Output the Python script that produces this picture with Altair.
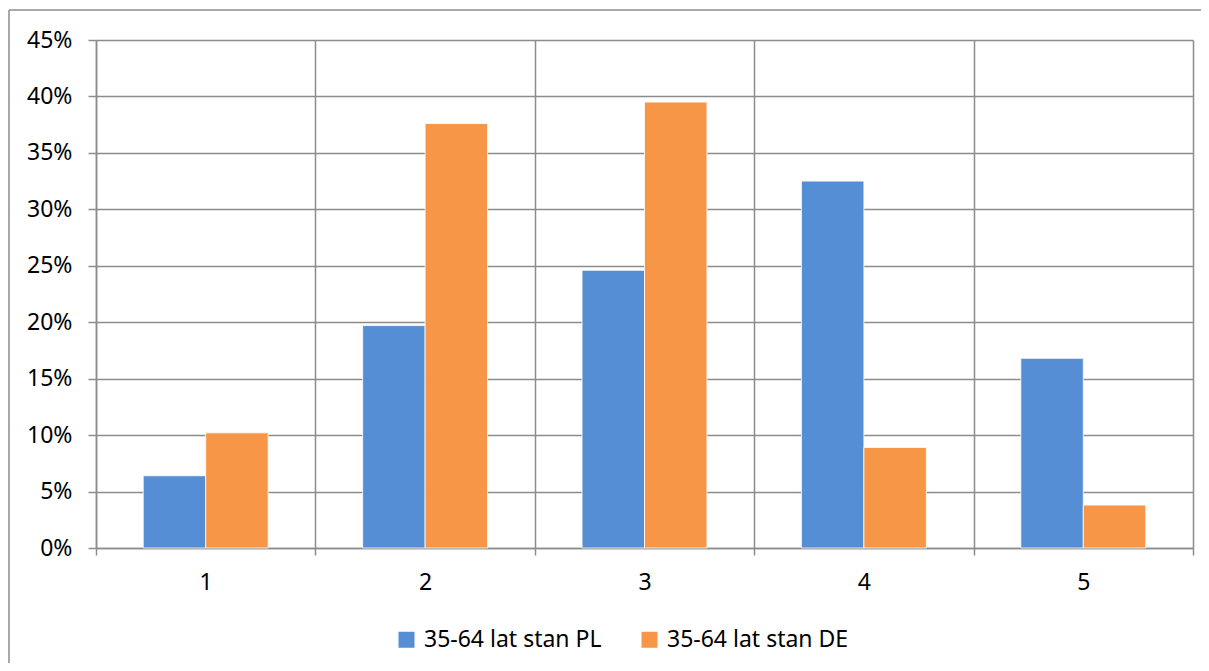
import altair as alt
import pandas as pd

categories = ["1", "2", "3", "4", "5"]
series_names = ["35-64 lat stan PL", "35-64 lat stan DE"]
pl_values = [0.064, 0.197, 0.246, 0.325, 0.168]
de_values = [0.102, 0.376, 0.395, 0.089, 0.038]
y_ticks = [0.0, 0.05, 0.10, 0.15, 0.20, 0.25, 0.30, 0.35, 0.40, 0.45]
colors = ["#558ED5", "#F79646"]

rows = []
for c, v in zip(categories, pl_values):
    rows.append({"cat": c, "series": series_names[0], "value": v})
for c, v in zip(categories, de_values):
    rows.append({"cat": c, "series": series_names[1], "value": v})
df = pd.DataFrame(rows)

FONT = "Noto Sans"
FS = 23
GRID = "#8c8c8c"

bars = alt.Chart(df).mark_bar(stroke="white", strokeWidth=0.8).encode(
    x=alt.X(
        "cat:N",
        sort=categories,
        title=None,
        scale=alt.Scale(paddingInner=0, paddingOuter=0),
        axis=alt.Axis(
            tickBand="extent",
            grid=True,
            gridColor=GRID,
            gridWidth=1.5,
            domainColor=GRID,
            domainWidth=1.5,
            tickColor=GRID,
            tickWidth=1.5,
            tickSize=7,
            labelAngle=0,
            labelPadding=16,
            labelFont=FONT,
            labelFontSize=FS,
            labelColor="#000000",
        ),
    ),
    xOffset=alt.XOffset(
        "series:N",
        sort=series_names,
        scale=alt.Scale(paddingInner=0, paddingOuter=0.756),
    ),
    y=alt.Y(
        "value:Q",
        title=None,
        scale=alt.Scale(domain=[0, 0.45], nice=False),
        axis=alt.Axis(
            values=y_ticks,
            format=".0%",
            grid=True,
            gridColor=GRID,
            gridWidth=1.5,
            domainColor=GRID,
            domainWidth=1.5,
            tickColor=GRID,
            tickWidth=1.5,
            tickSize=8,
            labelPadding=16,
            labelFont=FONT,
            labelFontSize=FS,
            labelColor="#000000",
        ),
    ),
    color=alt.Color(
        "series:N",
        sort=series_names,
        scale=alt.Scale(domain=series_names, range=colors),
        legend=alt.Legend(
            title=None,
            orient="none",
            direction="horizontal",
            legendX=299,
            legendY=588,
            symbolType="square",
            symbolSize=256,
            symbolStrokeWidth=0,
            symbolOpacity=1,
            labelFont=FONT,
            labelFontSize=FS,
            labelColor="#000000",
            labelOffset=6,
            columnPadding=36,
            padding=0,
            labelLimit=400,
        ),
    ),
)

frame = pd.DataFrame({"a": [0]})
border_top = alt.Chart(frame).mark_rule(stroke="#8c8c8c", strokeWidth=1.5).encode(
    x=alt.value(-87), x2=alt.value(1300), y=alt.value(-30)
)
border_left = alt.Chart(frame).mark_rule(stroke="#8c8c8c", strokeWidth=1.5).encode(
    x=alt.value(-87), y=alt.value(-30), y2=alt.value(700)
)

chart = alt.layer(border_top, border_left, bars).properties(
    width=1097,
    height=508,
    autosize=alt.AutoSizeParams(type="none"),
    padding={"left": 88, "top": 32, "right": 8, "bottom": 115},
).configure_view(stroke=None)

chart.save("out.html", embed_options={"renderer": "svg", "actions": False})
